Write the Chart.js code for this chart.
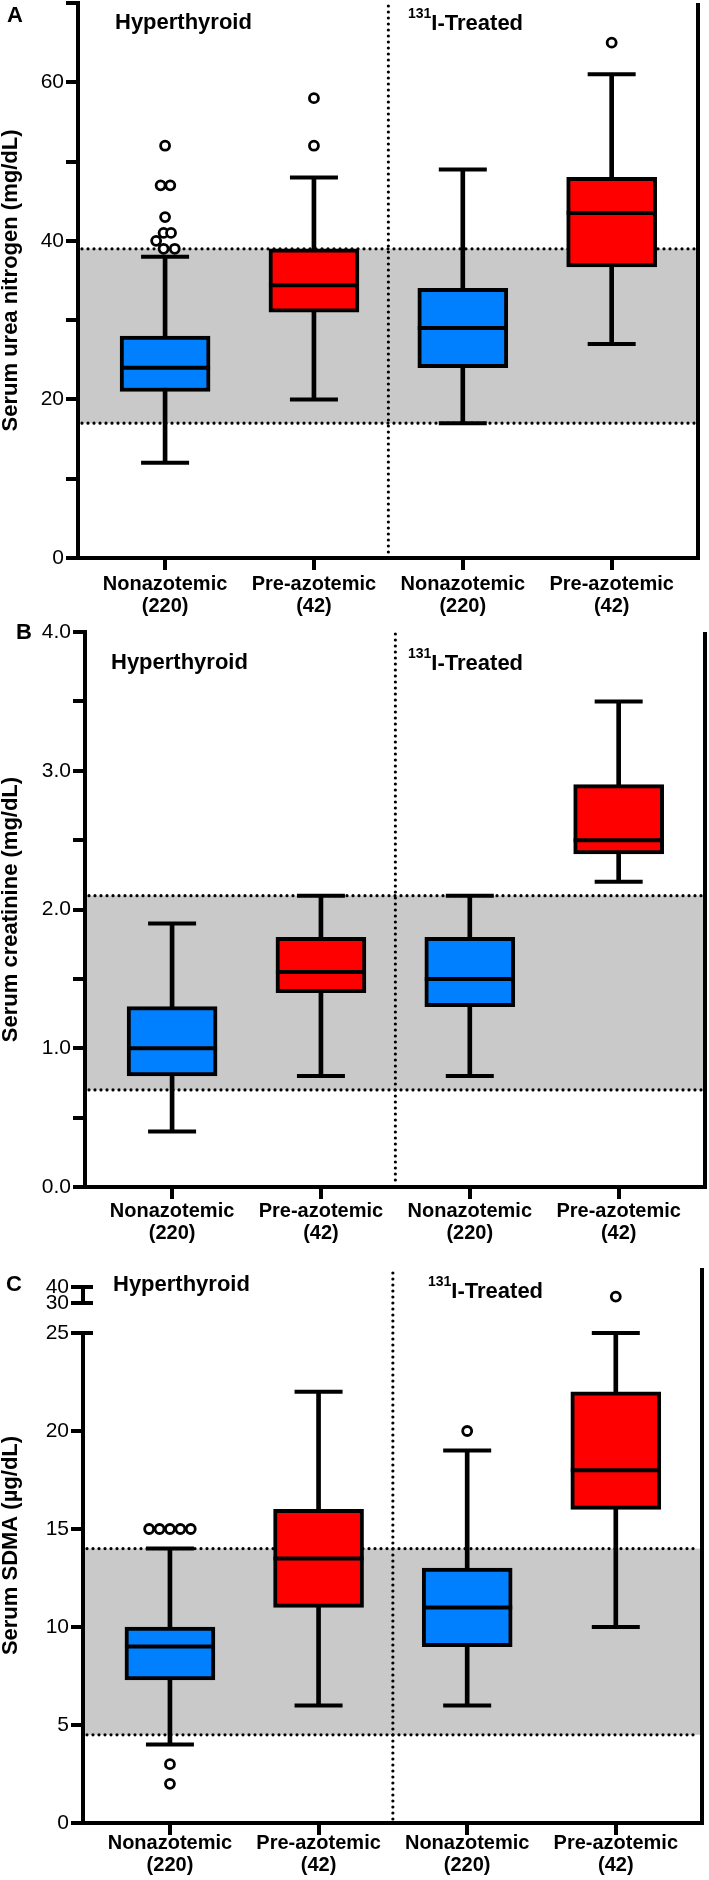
<!DOCTYPE html>
<html lang="en">
<head>
<meta charset="UTF-8">
<title>Serum urea nitrogen, creatinine and SDMA</title>
<script src="https://cdn.jsdelivr.net/npm/chart.js"></script>
<style>
    * { margin: 0; padding: 0; box-sizing: border-box; }
    body { background: #fff; font-family: 'Liberation Sans', Arial, Helvetica, sans-serif; }
    #wrap { position: relative; width: 709px; height: 1880px; overflow: hidden; }
    #wrap canvas { position: absolute; left: 0; }
    .lbl {
        position: absolute;
        font-weight: bold;
        font-size: 22px;
        line-height: 1;
        white-space: nowrap;
        color: #000;
    }
    .lbl .sup { font-size: 14px; position: relative; top: -12px; }
</style>
</head>
<body>
<div id="wrap">
    <canvas id="chartA" width="709" height="625" style="top:0px"></canvas>
    <canvas id="chartB" width="709" height="645" style="top:610px"></canvas>
    <canvas id="chartC" width="709" height="635" style="top:1245px"></canvas>

    <div class="lbl" style="left:7px;top:4px">A</div>
    <div class="lbl" style="left:115px;top:11px">Hyperthyroid</div>
    <div class="lbl" style="left:408px;top:12px"><span class="sup">131</span>I-Treated</div>

    <div class="lbl" style="left:16px;top:621px">B</div>
    <div class="lbl" style="left:111px;top:651px">Hyperthyroid</div>
    <div class="lbl" style="left:408px;top:652px"><span class="sup">131</span>I-Treated</div>

    <div class="lbl" style="left:6px;top:1273px">C</div>
    <div class="lbl" style="left:113px;top:1273px">Hyperthyroid</div>
    <div class="lbl" style="left:428px;top:1280px"><span class="sup">131</span>I-Treated</div>
</div>

<script>
// groups (same four in every panel)
const groupNames = ['Nonazotemic', 'Pre-azotemic', 'Nonazotemic', 'Pre-azotemic'];
const groupSizes = ['(220)', '(42)', '(220)', '(42)'];

// A - serum urea nitrogen (mg/dL): whisker low, Q1, median, Q3, whisker high
const bunLow = [12, 20, 17, 27];
const bunQ1 = [21, 31, 24, 36.7];
const bunMedian = [24, 34.4, 29, 43.5];
const bunQ3 = [28, 39, 34, 48];
const bunHigh = [38, 48, 49, 61];
const bunOutGroup = [0, 0, 0, 0, 0, 0, 0, 0, 0, 1, 1, 3];
const bunOutJitter = [-0.01, 0.065, -0.06, -0.01, 0.04, 0, -0.03, 0.035, 0, 0, 0, 0];
const bunOutValue = [39, 39, 40, 41, 41, 43, 47, 47, 52, 52, 58, 65];
const bunRef = [17, 39];

// B - serum creatinine (mg/dL)
const creaLow = [0.4, 0.8, 0.8, 2.2];
const creaQ1 = [0.8, 1.4, 1.3, 2.4];
const creaMedian = [1.0, 1.55, 1.5, 2.5];
const creaQ3 = [1.3, 1.8, 1.8, 2.9];
const creaHigh = [1.9, 2.1, 2.1, 3.5];
const creaRef = [0.7, 2.1];

// C - serum SDMA (µg/dL), broken axis 0-25 and 30-40
const sdmaLow = [4, 6, 6, 10];
const sdmaQ1 = [7.3, 11, 9, 16];
const sdmaMedian = [9, 13.5, 11, 18];
const sdmaQ3 = [10, 16, 13, 22];
const sdmaHigh = [14, 22, 19, 25];
const sdmaOutGroup = [0, 0, 0, 0, 0, 0, 0, 2];
const sdmaOutJitter = [-0.14, -0.07, 0, 0.07, 0.14, 0, 0, 0];
const sdmaOutValue = [15, 15, 15, 15, 15, 3, 2, 20];
const sdmaTopGroup = [3];
const sdmaTopValue = [34];
const sdmaRef = [4.5, 14];

// styles
const BLUE = '#0080ff';
const RED = '#ff0000';
const boxFill = [BLUE, RED, BLUE, RED];
const BAND = '#c9c9c9';

Chart.defaults.font.family = "'Liberation Sans', Arial, Helvetica, sans-serif";
Chart.defaults.color = '#000';

const FONT_TICK = {size: 21};
const FONT_TITLE = {size: 22, weight: 'bold', lineHeight: 1};
const FONT_CAT = {size: 20, weight: 'bold', lineHeight: 1.1};

// reference band, group divider, right frame line, broken-axis caps
const panelDecor = {
    id: 'panelDecor',
    beforeDatasetsDraw(chart, args, opts) {
        const {ctx, chartArea: a, scales} = chart;
        const yTop = scales.y.getPixelForValue(opts.ref[1]);
        const yBot = scales.y.getPixelForValue(opts.ref[0]);
        ctx.save();
        ctx.fillStyle = BAND;
        ctx.fillRect(a.left, yTop, a.right - a.left, yBot - yTop);
        ctx.strokeStyle = '#000';
        ctx.lineWidth = 3.2;
        ctx.lineCap = 'round';
        ctx.setLineDash([0, 6]);
        [yTop, yBot].forEach(py => {
            ctx.beginPath();
            ctx.moveTo(a.left + 4, py);
            ctx.lineTo(a.right - 3, py);
            ctx.stroke();
        });
        const px = scales.x.getPixelForValue(opts.split);
        ctx.beginPath();
        ctx.moveTo(px, a.top + opts.splitTop);
        ctx.lineTo(px, a.bottom - 2);
        ctx.stroke();
        ctx.restore();
    },
    afterDraw(chart, args, opts) {
        const {ctx, chartArea: a, scales} = chart;
        ctx.save();
        ctx.strokeStyle = '#000';
        ctx.lineWidth = 4;
        ctx.beginPath();
        ctx.moveTo(a.right, a.top);
        ctx.lineTo(a.right, a.bottom);
        ctx.stroke();
        (opts.caps || []).forEach(([id, v]) => {
            const py = scales[id].getPixelForValue(v);
            ctx.beginPath();
            ctx.moveTo(a.left - 2, py);
            ctx.lineTo(a.left + 10, py);
            ctx.stroke();
        });
        ctx.restore();
    }
};

function buildDatasets(low, q1, med, q3, high, outGroup, outJitter, outValue) {
    const idx = groupNames.map((_, i) => i);
    return [
        {
            type: 'scatter',
            data: outValue.map((v, k) => ({x: outGroup[k] + outJitter[k], y: v})),
            pointStyle: 'circle', pointRadius: 4.5, pointBorderWidth: 2.8,
            pointBorderColor: '#000', pointBackgroundColor: '#fff', clip: false
        },
        {
            type: 'scatter',
            data: idx.map(i => ({x: i, y: med[i]})),
            pointStyle: 'line', pointRadius: 45, pointBorderWidth: 4,
            pointBorderColor: '#000', clip: false
        },
        {
            type: 'scatter',
            data: idx.flatMap(i => [{x: i, y: low[i]}, {x: i, y: high[i]}]),
            pointStyle: 'line', pointRadius: 24, pointBorderWidth: 4,
            pointBorderColor: '#000', clip: false
        },
        {
            type: 'bar',
            data: idx.map(i => ({x: i, y: [q1[i], q3[i]]})),
            backgroundColor: boxFill, borderColor: '#000', borderWidth: 4,
            borderSkipped: false, barThickness: 90, grouped: false, clip: false
        },
        {
            type: 'bar',
            data: idx.map(i => ({x: i, y: [low[i], high[i]]})),
            backgroundColor: '#000', borderWidth: 0,
            barThickness: 4, grouped: false, clip: false
        }
    ];
}

function xAxis(height, pad) {
    return {
        type: 'linear', min: -0.585, max: 3.58, offset: false,
        grid: {display: true, drawOnChartArea: false, drawTicks: true, tickLength: 12, lineWidth: 4, color: '#000', offset: false},
        border: {display: true, width: 4, color: '#000', z: 1},
        afterBuildTicks: s => { s.ticks = groupNames.map((_, i) => ({value: i})); },
        ticks: {
            autoSkip: false, maxRotation: 0, minRotation: 0, padding: pad,
            font: FONT_CAT, color: '#000',
            callback: v => [groupNames[v], groupSizes[v]]
        },
        afterFit: s => { s.height = height; s.paddingLeft = 0; s.paddingRight = 0; }
    };
}

function valueAxis(min, max, step, label, width, title, extra) {
    return Object.assign({
        type: 'linear', min: min, max: max,
        grid: {display: true, drawOnChartArea: false, drawTicks: true, tickLength: 12, lineWidth: 4, color: '#000'},
        border: {display: true, width: 4, color: '#000', z: 1},
        ticks: {stepSize: step, autoSkip: false, padding: 2, font: FONT_TICK, color: '#000', callback: label},
        title: {display: !!title, text: title || '', font: FONT_TITLE, padding: 0, color: '#000'},
        afterFit: s => { s.width = width; s.paddingTop = 0; s.paddingBottom = 0; }
    }, extra || {});
}

function emptyAxis(width, extra) {
    return Object.assign({
        type: 'linear',
        grid: {display: false},
        border: {display: false},
        ticks: {display: false},
        afterFit: s => { s.width = width; s.paddingTop = 0; s.paddingBottom = 0; }
    }, extra || {});
}

function baseOptions(pad, scales, decor) {
    return {
        responsive: false,
        animation: false,
        events: [],
        layout: {autoPadding: false, padding: pad},
        plugins: {legend: {display: false}, tooltip: {enabled: false}, panelDecor: decor},
        scales: scales
    };
}

// Panel A
new Chart('chartA', {
    type: 'bar',
    data: {datasets: buildDatasets(bunLow, bunQ1, bunMedian, bunQ3, bunHigh, bunOutGroup, bunOutJitter, bunOutValue)},
    options: baseOptions({left: 0, top: 3, right: 11, bottom: 0}, {
        x: xAxis(67, 3),
        y: valueAxis(0, 70, 10, v => (v % 20 === 0 ? String(v) : ''), 78, 'Serum urea nitrogen (mg/dL)')
    }, {ref: bunRef, split: 1.5, splitTop: 3}),
    plugins: [panelDecor]
});

// Panel B
new Chart('chartB', {
    type: 'bar',
    data: {datasets: buildDatasets(creaLow, creaQ1, creaMedian, creaQ3, creaHigh, [], [], [])},
    options: baseOptions({left: 0, top: 22, right: 4, bottom: 0}, {
        x: xAxis(68, 1),
        y: valueAxis(0, 4, 0.5, v => (Number.isInteger(v) ? v.toFixed(1) : ''), 85, 'Serum creatinine (mg/dL)')
    }, {ref: creaRef, split: 1.5, splitTop: 2}),
    plugins: [panelDecor]
});

// Panel C (broken y axis: stacked scales)
const sdmaSets = buildDatasets(sdmaLow, sdmaQ1, sdmaMedian, sdmaQ3, sdmaHigh, sdmaOutGroup, sdmaOutJitter, sdmaOutValue);
sdmaSets.unshift({
    type: 'scatter', yAxisID: 'yTop',
    data: sdmaTopValue.map((v, k) => ({x: sdmaTopGroup[k], y: v})),
    pointStyle: 'circle', pointRadius: 4.5, pointBorderWidth: 2.8,
    pointBorderColor: '#000', pointBackgroundColor: '#fff', clip: false
});
new Chart('chartC', {
    type: 'bar',
    data: {datasets: sdmaSets},
    options: baseOptions({left: 0, top: 23, right: 7, bottom: 0}, {
        x: xAxis(57, -3),
        y: valueAxis(0, 25, 5, v => String(v), 61, null, {stack: 'sdma', stackWeight: 490}),
        yGap: emptyAxis(61, {stack: 'sdma', stackWeight: 30}),
        yTop: valueAxis(30, 40, 10, v => String(v), 61, null, {stack: 'sdma', stackWeight: 16}),
        yTopGap: emptyAxis(61, {stack: 'sdma', stackWeight: 19}),
        yTitle: emptyAxis(22, {title: {display: true, text: 'Serum SDMA (µg/dL)', font: FONT_TITLE, padding: 0, color: '#000'}})
    }, {ref: sdmaRef, split: 1.5, splitTop: 5, caps: [['yTop', 40], ['yTop', 30], ['y', 25]]}),
    plugins: [panelDecor]
});
</script>
</body>
</html>
